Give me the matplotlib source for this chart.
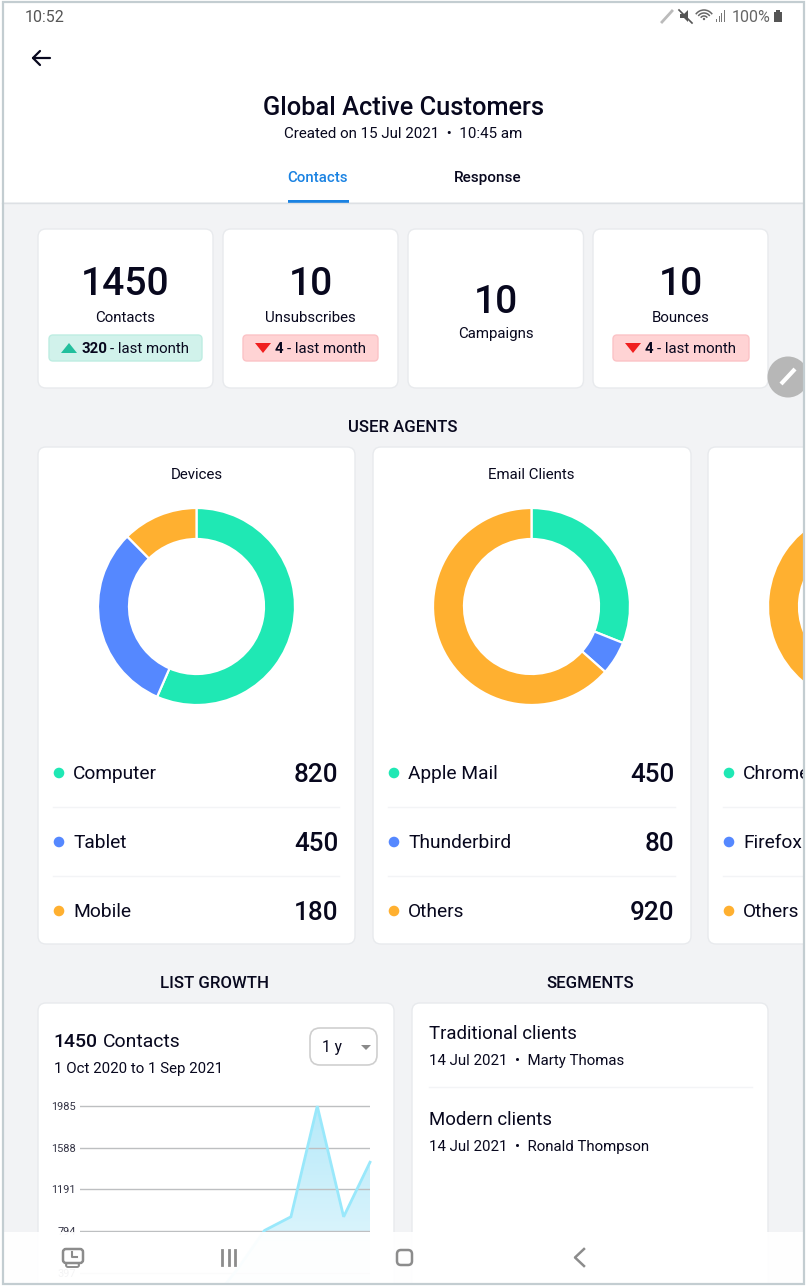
# -*- coding: utf-8 -*-
import numpy as np
import matplotlib
matplotlib.use("Agg")
import matplotlib.pyplot as plt
from matplotlib.patches import FancyBboxPatch, Rectangle, Circle, Polygon, Arc
from matplotlib.colors import LinearSegmentedColormap

plt.rcParams["font.family"] = ["Roboto", "DejaVu Sans"]

# ── data ─────────────────────────────────────────────
kpi_values = ["1450", "10", "10", "10"]
kpi_labels = ["Contacts", "Unsubscribes", "Campaigns", "Bounces"]
kpi_delta = ["320", "4", None, "4"]
delta_suffix = "- last month"

donut_titles = ["Devices", "Email Clients"]
device_names = ["Computer", "Tablet", "Mobile"]
device_values = [820, 450, 180]
client_names = ["Apple Mail", "Thunderbird", "Others"]
client_values = [450, 80, 920]
browser_names = ["Chrome", "Firefox", "Others"]
browser_values = [430, 120, 900]   # only the orange part is on screen

growth_months = ["Oct", "Nov", "Dec", "Jan", "Feb", "Mar",
                 "Apr", "May", "Jun", "Jul", "Aug", "Sep"]
growth_values = [0, 0, 0, 0, 0, 120, 440, 800, 930, 1985, 930, 1450]
growth_ticks = [397, 794, 1191, 1588, 1985]

segment_names = ["Traditional clients", "Modern clients"]
segment_meta = ["14 Jul 2021  •  Marty Thomas", "14 Jul 2021  •  Ronald Thompson"]

# ── colours ──────────────────────────────────────────
INK = "#08081E"
BG = "#F2F3F5"
EDGE = "#E8EAED"
SLICES = ["#1FE8B4", "#5588FF", "#FFB030"]
W, H = 806, 1286


def fs(px):
    return px * 72 / 100


def axes_px(x0, y0, x1, y1, **kw):
    # pixel box, y going down, as the figure fraction box matplotlib wants
    return fig.add_axes([x0 / W, 1 - y1 / H, (x1 - x0) / W, (y1 - y0) / H], **kw)


def card(x0, y0, x1, y1, r=8, fc="white", ec=EDGE, lw=1, a=None):
    a = a or ax
    a.add_patch(FancyBboxPatch((x0, y0), x1 - x0, y1 - y0,
                               boxstyle=f"round,pad=0,rounding_size={r}",
                               fc=fc, ec=ec, lw=lw))


def label(x, y, s, px=15, ha="left", w="normal", c=INK, a=None, **kw):
    a = a or ax
    # va=center sits a little high for this font
    return a.text(x, y + 1.4, s, fontsize=fs(px), ha=ha, va="center", color=c, fontweight=w, **kw)


fig = plt.figure(figsize=(W / 100, H / 100), dpi=100, facecolor="white")
ax = fig.add_axes([0, 0, 1, 1], zorder=0)
ax.set_xlim(0, W); ax.set_ylim(H, 0); ax.axis("off")

# ── page + header ────────────────────────────────────
ax.add_patch(Rectangle((2, 202), W - 4, H - 204, fc=BG, ec="none"))
ax.plot([2, 804], [202.5, 202.5], color="#DDE0E4", lw=1)

label(25, 16, "10:52", 16, c="#555555")
label(771, 16, "100%", 16, ha="right", c="#666666")
# status icons
ax.plot([662, 672], [22, 11], color="#BBBBBB", lw=2)
ax.add_patch(Polygon([[680, 14], [684, 14], [688, 10], [688, 22], [684, 18], [680, 18]], fc="#555555"))
ax.plot([679, 692], [10, 23], color="#555555", lw=1.2)
for r in (4, 7, 10):
    ax.add_patch(Arc((704, 20), r * 2, r * 2, theta1=215, theta2=325, color="#666666", lw=1.1))
ax.add_patch(Circle((704, 19), 1.2, fc="#666666", ec="none"))
for i, hh in enumerate((3, 6, 9, 12)):
    ax.add_patch(Rectangle((716 + i * 2.6, 22 - hh), 1.2, hh, fc="#777777", ec="none"))
ax.add_patch(Rectangle((774, 12), 7.5, 10, fc="#555555", ec="none"))
ax.add_patch(Rectangle((776, 10), 3.5, 2, fc="#555555", ec="none"))

# back arrow
ax.plot([33, 50], [58, 58], color=INK, lw=1.6, solid_capstyle="round")
ax.plot([40, 33, 40], [51, 58, 65], color=INK, lw=1.6, solid_capstyle="round")

label(403.5, 107, "Global Active Customers", 25.4, ha="center", w="medium")
label(403, 132.5, "Created on 15 Jul 2021  •  10:45 am", 15.1, ha="center")
label(318, 176.5, "Contacts", 15, ha="center", w="medium", c="#1A82E2")
label(488, 176.5, "Response", 15.2, ha="center", w="medium")
ax.add_patch(Rectangle((288, 199.5), 61, 3, fc="#1A82E2", ec="none"))

# ── KPI cards ────────────────────────────────────────
kpi_x = [(38, 213), (223, 398), (408, 583.5), (593, 768)]
badge_x = [(49, 202), (243, 378), None, (613, 749)]
for i, (x0, x1) in enumerate(kpi_x):
    card(x0, 229, x1, 388)
    cx = (x0 + x1) / 2
    if kpi_delta[i] is None:
        label(cx, 301, kpi_values[i], 39, ha="center", w="medium")
        label(cx, 333, kpi_labels[i], 15, ha="center")
        continue
    label(cx, 283, kpi_values[i], 39, ha="center", w="medium")
    label(cx, 316.5, kpi_labels[i], 15, ha="center")
    bx0, bx1 = badge_x[i]
    up = i == 0
    card(bx0, 335, bx1, 361, r=4, fc="#D1F2EB" if up else "#FFD3D4",
         ec="#BEEDE2" if up else "#FBC3C6")
    tx = bx0 + 20
    if up:
        ax.add_patch(Polygon([[tx - 8, 353], [tx + 8, 353], [tx, 343]], fc="#23BF9D", ec="none"))
    else:
        ax.add_patch(Polygon([[tx - 8, 343], [tx + 8, 343], [tx, 353]], fc="#F01E1E", ec="none"))
    t = label(tx + 12, 347.5, kpi_delta[i], 15, w="bold")
    fig.canvas.draw()
    ext = t.get_window_extent()
    label(ext.x1 + 3, 347.5, delta_suffix, 15)

# pencil button
ax.add_patch(Circle((788, 377), 20.5, fc="#B7B7B7", ec="none"))
ax.plot([781, 795], [384, 369], color="white", lw=3, solid_capstyle="butt")

# ── user agents ──────────────────────────────────────
label(403, 426.5, "USER AGENTS", 16.8, ha="center", w="medium")
columns = [(38, 355, device_names, device_values),
           (373, 691, client_names, client_values),
           (708, 1030, browser_names, browser_values)]
for i, (x0, x1, names, values) in enumerate(columns):
    card(x0, 447, x1, 944)
    if i < 2:
        label(x0 + 158.5, 473.5, donut_titles[i], 15, ha="center")
    for y in (807, 876):
        ax.plot([x0 + 15, min(x1 - 16, 804)], [y, y], color="#F3F4F6", lw=1)
    for j, y in enumerate((773, 842, 911)):
        ax.add_patch(Circle((x0 + 21, y), 5.3, fc=SLICES[j], ec="none"))
        label(x0 + 35, y - 0.5, names[j], 19.2, clip_on=True)
        if i < 2:
            label(x1 - 16.5, y + 0.5, str(values[j]), 26, ha="right", w="medium")
    # donut
    dcx = x0 + 158.5
    dax = axes_px(dcx - 100, 506.5, dcx + 100, 706.5, zorder=1)
    dax.pie(values, colors=SLICES, startangle=90, counterclock=False, radius=0.985,
            wedgeprops=dict(width=0.31, edgecolor="white", linewidth=1.6))
    dax.set_xlim(-1, 1); dax.set_ylim(-1, 1)

# ── list growth ──────────────────────────────────────
label(215, 982, "LIST GROWTH", 16.8, ha="center", w="medium")
label(590, 982, "SEGMENTS", 16.8, ha="center", w="medium")
card(38, 1003, 394, 1300)
card(412, 1003, 768, 1300)

t = label(53.5, 1041, "1450", 19.4, w="medium")
fig.canvas.draw()
label(t.get_window_extent().x1 + 5, 1041, "Contacts", 19.4)
label(54, 1067.5, "1 Oct 2020 to 1 Sep 2021", 15)
card(310, 1028, 377, 1065, r=10, ec="#CFCFCF", lw=1.2)
label(322, 1046, "1 y", 15.5)
ax.add_patch(Polygon([[361, 1045], [371, 1045], [366, 1050]], fc="#8A8A8A", ec="none"))

for i, (name, meta) in enumerate(zip(segment_names, segment_meta)):
    y = 1032.5 + i * 86
    label(429, y, name, 18.7)
    label(429, y + 27, meta, 15)
ax.plot([429, 752], [1087, 1087], color="#F3F4F6", lw=1)

gax = axes_px(80, 1100, 370, 1314.4, zorder=1)
gax.patch.set_alpha(0)
xs = np.arange(len(growth_values))
ymax = 2043
cm = LinearSegmentedColormap.from_list("fill", ["#EFFBFE", "#B6E9F9"])
img = gax.imshow(np.linspace(0, 1, 256)[:, None], cmap=cm, origin="lower", aspect="auto",
                 extent=(0, len(xs) - 1, 0, 1985), zorder=1)
poly = gax.fill_between(xs, 0, growth_values, color="none")
img.set_clip_path(poly.get_paths()[0], transform=gax.transData)
gax.set_xlim(0, len(xs) - 1); gax.set_ylim(0, ymax)
gax.set_yticks(growth_ticks)
gax.set_yticklabels([str(v) for v in growth_ticks], fontsize=fs(11), color="#333344")
gax.set_xticks([])
gax.tick_params(axis="y", length=0, pad=3)
gax.grid(axis="y", color="#BDBFC1", lw=1, zorder=2)
gax.set_axisbelow(False)
for s in gax.spines.values():
    s.set_visible(False)
gax.plot(xs, growth_values, color="#99E8FB", lw=2, zorder=3, clip_on=False, solid_joinstyle="miter")

# ── nav bar + device frame on top ────────────────────
top = fig.add_axes([0, 0, 1, 1], zorder=5)
top.set_xlim(0, W); top.set_ylim(H, 0); top.axis("off"); top.patch.set_alpha(0)
top.add_patch(Rectangle((2, 1232), W - 4, 52, fc="white", ec="none", alpha=0.95))
NAV = "#8C8C8C"
card(63, 1249, 83, 1263, r=3, fc="none", ec=NAV, lw=1.8, a=top)
card(66, 1263, 79, 1267, r=2, fc="none", ec=NAV, lw=1.4, a=top)
top.plot([72, 72, 77], [1252, 1257, 1257], color=NAV, lw=1.5)
for x in (222, 228.5, 235):
    top.plot([x, x], [1250, 1265], color=NAV, lw=2)
card(397, 1250, 412, 1265, r=4, fc="none", ec=NAV, lw=1.8, a=top)
top.plot([584, 575, 584], [1249, 1257.5, 1266], color=NAV, lw=1.8)
# everything past the bezel is cut off
top.add_patch(Rectangle((804, 0), 3, H, fc="white", ec="none"))
top.add_patch(Rectangle((0, 1284), W, 3, fc="white", ec="none"))
top.add_patch(Rectangle((2.5, 2), 801, 1281.5, fc="none", ec="#C3CDD1", lw=1.6))

fig.savefig("out.png", dpi=100)
